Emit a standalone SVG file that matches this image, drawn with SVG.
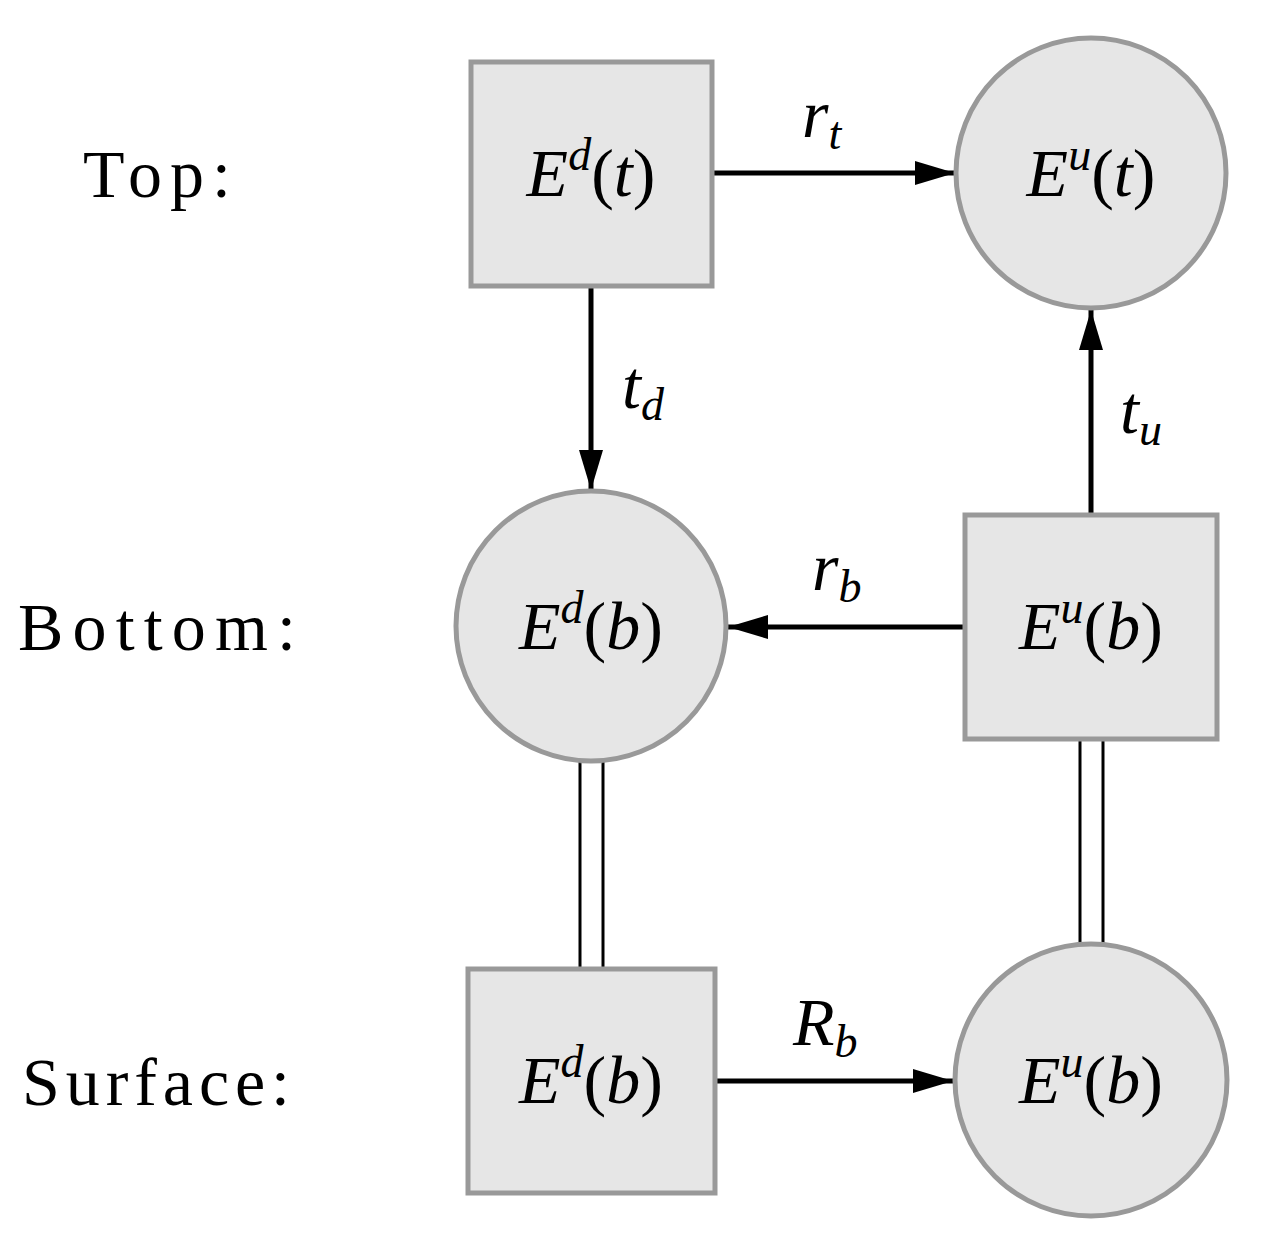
<svg xmlns="http://www.w3.org/2000/svg" width="1275" height="1242" viewBox="0 0 1275 1242">
<style>
.n{fill:#e6e6e6;stroke:#999;stroke-width:5}
.t{font-family:"Liberation Serif","DejaVu Serif","Times New Roman",serif;font-size:68px;fill:#000}
.i{font-style:italic}
.s{font-size:46px;font-style:italic}
.c{stroke:#000;stroke-width:5;fill:none}
.d{stroke:#000;stroke-width:3;fill:none}
</style>
<defs>
<marker id="b" viewBox="0 0 40 24" refX="40" refY="12" markerWidth="40" markerHeight="24" markerUnits="userSpaceOnUse" orient="auto">
<path d="M0,0 L40,12 L0,24 Z" fill="#000"/>
</marker>
</defs>
<g class="t">
<text x="83" y="197" textLength="148">Top:</text>
<text x="18" y="650" textLength="278">Bottom:</text>
<text x="22" y="1105" textLength="268">Surface:</text>
</g>
<g id="connectors">
<line class="c" x1="712" y1="173" x2="955" y2="173" marker-end="url(#b)"/>
<line class="c" x1="591" y1="288" x2="591" y2="490" marker-end="url(#b)"/>
<line class="c" x1="1091" y1="515" x2="1091" y2="310" marker-end="url(#b)"/>
<line class="c" x1="965" y1="627" x2="728" y2="627" marker-end="url(#b)"/>
<line class="c" x1="715" y1="1081" x2="953" y2="1081" marker-end="url(#b)"/>
<line class="d" x1="580" y1="762" x2="580" y2="969"/>
<line class="d" x1="603" y1="762" x2="603" y2="969"/>
<line class="d" x1="1080" y1="740" x2="1080" y2="944"/>
<line class="d" x1="1103" y1="740" x2="1103" y2="944"/>
<text class="t" x="802" y="137"><tspan class="i">r</tspan><tspan class="s" dy="12">t</tspan></text>
<text class="t" x="622" y="408"><tspan class="i">t</tspan><tspan class="s" dy="12">d</tspan></text>
<text class="t" x="1120" y="433"><tspan class="i">t</tspan><tspan class="s" dy="12">u</tspan></text>
<text class="t" x="812" y="590"><tspan class="i">r</tspan><tspan class="s" dy="12">b</tspan></text>
<text class="t" x="793" y="1045"><tspan class="i">R</tspan><tspan class="s" dy="12">b</tspan></text>
</g>
<g id="n1"><rect class="n" x="471" y="62" width="241" height="224"/>
<text class="t" x="591" y="196" text-anchor="middle"><tspan class="i">E</tspan><tspan class="s" dy="-26">d</tspan><tspan dy="26">(</tspan><tspan class="i">t</tspan>)</text></g>
<g id="n2"><circle class="n" cx="1091" cy="173" r="135"/>
<text class="t" x="1091" y="196" text-anchor="middle"><tspan class="i">E</tspan><tspan class="s" dy="-26">u</tspan><tspan dy="26">(</tspan><tspan class="i">t</tspan>)</text></g>
<g id="n3"><circle class="n" cx="591" cy="626" r="135"/>
<text class="t" x="591" y="649" text-anchor="middle"><tspan class="i">E</tspan><tspan class="s" dy="-26">d</tspan><tspan dy="26">(</tspan><tspan class="i">b</tspan>)</text></g>
<g id="n4"><rect class="n" x="965" y="515" width="252" height="224"/>
<text class="t" x="1091" y="649" text-anchor="middle"><tspan class="i">E</tspan><tspan class="s" dy="-26">u</tspan><tspan dy="26">(</tspan><tspan class="i">b</tspan>)</text></g>
<g id="n5"><rect class="n" x="468" y="969" width="247" height="224"/>
<text class="t" x="591" y="1103" text-anchor="middle"><tspan class="i">E</tspan><tspan class="s" dy="-26">d</tspan><tspan dy="26">(</tspan><tspan class="i">b</tspan>)</text></g>
<g id="n6"><circle class="n" cx="1091" cy="1080" r="136"/>
<text class="t" x="1091" y="1103" text-anchor="middle"><tspan class="i">E</tspan><tspan class="s" dy="-26">u</tspan><tspan dy="26">(</tspan><tspan class="i">b</tspan>)</text></g>
</svg>
